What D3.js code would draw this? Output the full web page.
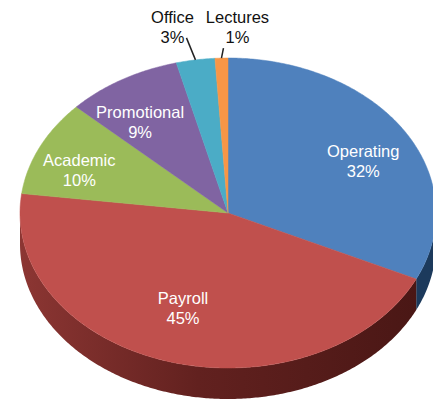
<!DOCTYPE html>
<html>
<head>
<meta charset="utf-8">
<script src="https://cdn.jsdelivr.net/npm/d3@7"></script>
<style>
  body { margin: 0; background: #fff; }
  svg { display: block; font-family: "Liberation Sans", Arial, sans-serif; }
</style>
</head>
<body>
<svg id="chart" width="433" height="408"></svg>
<script>
// slice data, clockwise from 12 o'clock
const categories = ['Operating', 'Payroll', 'Academic', 'Promotional', 'Office', 'Lectures'];
const shares = [32, 45, 10, 9, 3, 1];
const labels = ['32%', '45%', '10%', '9%', '3%', '1%'];

const topColors = ['#4f81bd', '#c0504d', '#9bbb59', '#8064a2', '#4bacc6', '#f79646'];
const sideColors = ['#1c3a5c', '#6a2422', '#5d7234', '#4c3c62', '#2d6777', '#94592a'];

const svg = d3.select('#chart');

// ellipse geometry of the top face
const cx = 228, cy = 213, rx = 208, ry = 155, depth = 31;

// point on the tilted face for an angle measured clockwise from the top
const pt = (a, k = 1, ky = 1) => [cx + rx * k * Math.sin(a), cy - ry * k * ky * Math.cos(a)];

const pie = d3.pie().sort(null).value(d => d.value).startAngle(0).endAngle(2 * Math.PI);
const arcs = pie(categories.map((c, i) => ({name: c, value: shares[i], label: labels[i], i})));

const line = d3.line();

function arcPoints(a0, a1, k = 1) {
    const n = Math.max(2, Math.ceil((a1 - a0) / 0.01));
    return d3.range(n + 1).map(j => pt(a0 + (a1 - a0) * j / n, k));
}

// side gradient for the big front slice
const defs = svg.append('defs');
const grad = defs.append('linearGradient').attr('id', 'redSide')
    .attr('x1', 0).attr('x2', 1).attr('y1', 0).attr('y2', 0);
grad.append('stop').attr('offset', '0%').attr('stop-color', '#8c3633');
grad.append('stop').attr('offset', '45%').attr('stop-color', '#62211f');
grad.append('stop').attr('offset', '100%').attr('stop-color', '#4a1715');

// visible walls: only the front half (angles between 90° and 270°)
const lo = Math.PI / 2, hi = 3 * Math.PI / 2;
svg.append('g').selectAll('path')
    .data(arcs.filter(d => d.endAngle > lo && d.startAngle < hi))
    .join('path')
    .attr('fill', d => d.data.name === 'Payroll' ? 'url(#redSide)' : sideColors[d.data.i])
    .attr('d', d => {
        const a0 = Math.max(d.startAngle, lo), a1 = Math.min(d.endAngle, hi);
        const upper = arcPoints(a0, a1);
        const lower = upper.map(p => [p[0], p[1] + depth]).reverse();
        return line(upper.concat(lower)) + 'Z';
    });

// top faces
svg.append('g').selectAll('path')
    .data(arcs)
    .join('path')
    .attr('fill', d => topColors[d.data.i])
    .attr('stroke', d => topColors[d.data.i])
    .attr('stroke-width', 0.5)
    .attr('d', d => line([[cx, cy]].concat(arcPoints(d.startAngle, d.endAngle))) + 'Z');

// labels inside the big slices (radial factor, labels sit a bit flatter than the rim)
const inside = {Operating: 0.77, Payroll: 0.775, Academic: 0.79, Promotional: 0.83};
const inner = svg.append('g').attr('fill', '#fff').attr('font-size', 16.5).attr('text-anchor', 'middle');
arcs.filter(d => inside[d.data.name]).forEach(d => {
    const mid = (d.startAngle + d.endAngle) / 2;
    const [x, y] = pt(mid, inside[d.data.name], 0.82);
    const t = inner.append('text').attr('x', x).attr('y', y - 4);
    t.append('tspan').attr('x', x).text(d.data.name);
    t.append('tspan').attr('x', x).attr('dy', 20).text(d.data.label);
});

// callouts for the thin slices
const callout = {Office: {dx: -9, dy: -22, tx: -14}, Lectures: {dx: 2, dy: -10, tx: 14}};
const outer = svg.append('g').attr('fill', '#111').attr('font-size', 16.5).attr('text-anchor', 'middle');
arcs.filter(d => callout[d.data.name]).forEach(d => {
    const c = callout[d.data.name];
    const mid = (d.startAngle + d.endAngle) / 2;
    const [x0, y0] = pt(mid);
    const x1 = x0 + c.dx, y1 = y0 + c.dy;
    outer.append('line')
        .attr('x1', x0).attr('y1', y0).attr('x2', x1).attr('y2', y1)
        .attr('stroke', '#222').attr('stroke-width', 1.5);
    const tx = x1 + c.tx;
    const t = outer.append('text').attr('x', tx).attr('y', 23);
    t.append('tspan').attr('x', tx).text(d.data.name);
    t.append('tspan').attr('x', tx).attr('dy', 20).text(d.data.label);
});
</script>
</body>
</html>
